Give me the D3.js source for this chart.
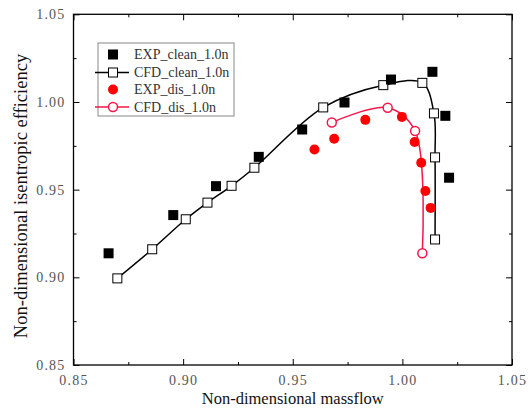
<!DOCTYPE html>
<html>
<head>
<meta charset="utf-8">
<script src="https://cdn.jsdelivr.net/npm/d3@7"></script>
<style>
  body { margin: 0; background: #fff; }
  svg text { font-family: "Liberation Serif", "DejaVu Serif", serif; }
</style>
</head>
<body>
<div id="chart"></div>
<script>
// data
var expCleanX = [0.866, 0.8955, 0.915, 0.9345, 0.9543, 0.9736, 0.9948, 1.0137, 1.0196, 1.0213];
var expCleanY = [0.9137, 0.9355, 0.952, 0.9687, 0.9843, 0.9997, 1.0128, 1.0172, 0.9921, 0.9568];

var cfdCleanX = [0.870, 0.8859, 0.9012, 0.9111, 0.9221, 0.9325, 0.9639, 0.9913, 1.0091, 1.0144, 1.0149, 1.0149];
var cfdCleanY = [0.8994, 0.916, 0.9331, 0.9426, 0.9522, 0.9625, 0.9969, 1.0096, 1.0109, 0.9935, 0.9684, 0.9216];

var expDisX = [0.9599, 0.9689, 0.9831, 0.9998, 1.0056, 1.0086, 1.0105, 1.0129];
var expDisY = [0.9729, 0.979, 0.9898, 0.9915, 0.9772, 0.9653, 0.9492, 0.9396];

var cfdDisX = [0.9678, 0.9933, 1.0058, 1.0091];
var cfdDisY = [0.9883, 0.9967, 0.9834, 0.9137];

var xTicks = [0.85, 0.90, 0.95, 1.00, 1.05];
var yTicks = [0.85, 0.90, 0.95, 1.00, 1.05];
var minorTicks = [0.875, 0.925, 0.975, 1.025];

var legendNames = ["EXP_clean_1.0n", "CFD_clean_1.0n", "EXP_dis_1.0n", "CFD_dis_1.0n"];

var width = 532, height = 416;
var pLeft = 73.5, pRight = 512, pTop = 14.3, pBottom = 365;

var svg = d3.select('#chart').append('svg').attr('width', width).attr('height', height);

var x = d3.scaleLinear().domain([0.85, 1.05]).range([pLeft, pRight]);
var y = d3.scaleLinear().domain([0.85, 1.05]).range([pBottom, pTop]);

function zip(xs, ys) { return xs.map(function(v, i) { return [v, ys[i]]; }); }

// axes, ticks pointing inward
function styleAxis(g) {
  g.select('.domain').remove();
  g.selectAll('.tick line').attr('stroke', '#000').attr('stroke-width', 1);
  g.selectAll('.tick text').attr('fill', '#555').attr('font-size', 14).attr('letter-spacing', 1.2);
}

svg.append('g').attr('transform', 'translate(0,' + pBottom + ')')
  .call(d3.axisBottom(x).tickValues(xTicks).tickSize(-6).tickPadding(10).tickFormat(d3.format('.2f')))
  .call(styleAxis);
svg.append('g').attr('transform', 'translate(0,' + pBottom + ')')
  .call(d3.axisBottom(x).tickValues(minorTicks).tickSize(-3).tickFormat(''))
  .call(styleAxis);
svg.append('g').attr('transform', 'translate(0,' + pTop + ')')
  .call(d3.axisTop(x).tickValues(xTicks).tickSize(-6).tickFormat(''))
  .call(styleAxis);
svg.append('g').attr('transform', 'translate(0,' + pTop + ')')
  .call(d3.axisTop(x).tickValues(minorTicks).tickSize(-3).tickFormat(''))
  .call(styleAxis);

svg.append('g').attr('transform', 'translate(' + pLeft + ',0)')
  .call(d3.axisLeft(y).tickValues(yTicks).tickSize(-6).tickPadding(8).tickFormat(d3.format('.2f')))
  .call(styleAxis);
svg.append('g').attr('transform', 'translate(' + pLeft + ',0)')
  .call(d3.axisLeft(y).tickValues(minorTicks).tickSize(-3).tickFormat(''))
  .call(styleAxis);
svg.append('g').attr('transform', 'translate(' + pRight + ',0)')
  .call(d3.axisRight(y).tickValues(yTicks).tickSize(-6).tickFormat(''))
  .call(styleAxis);
svg.append('g').attr('transform', 'translate(' + pRight + ',0)')
  .call(d3.axisRight(y).tickValues(minorTicks).tickSize(-3).tickFormat(''))
  .call(styleAxis);

svg.append('rect')
  .attr('x', pLeft).attr('y', pTop)
  .attr('width', pRight - pLeft).attr('height', pBottom - pTop)
  .attr('fill', 'none').attr('stroke', '#000').attr('stroke-width', 1.3);

// axis titles
svg.append('text')
  .attr('x', (pLeft + pRight) / 2).attr('y', 404)
  .attr('text-anchor', 'middle').attr('font-size', 16.5).attr('fill', '#111')
  .text('Non-dimensional massflow');
svg.append('text')
  .attr('transform', 'translate(27,196) rotate(-90)')
  .attr('text-anchor', 'middle').attr('font-size', 18.5).attr('fill', '#111')
  .text('Non-dimensional isentropic efficiency');

// lines
var line = d3.line().x(d => x(d[0])).y(d => y(d[1])).curve(d3.curveCatmullRom.alpha(0.5));

var blackCol = '#000', redCol = '#ff0000', pinkCol = '#f5164a';

svg.append('path').datum(zip(cfdCleanX, cfdCleanY))
  .attr('d', line).attr('fill', 'none').attr('stroke', blackCol).attr('stroke-width', 1.5);
svg.append('path').datum(zip(cfdDisX, cfdDisY))
  .attr('d', line).attr('fill', 'none').attr('stroke', pinkCol).attr('stroke-width', 1.5);

// markers
svg.append('g').selectAll('circle')
  .data(zip(expDisX, expDisY)).join('circle')
  .attr('cx', d => x(d[0])).attr('cy', d => y(d[1])).attr('r', 5)
  .attr('fill', redCol);

svg.append('g').selectAll('rect')
  .data(zip(cfdCleanX, cfdCleanY)).join('rect')
  .attr('x', d => x(d[0]) - 4.5).attr('y', d => y(d[1]) - 4.5)
  .attr('width', 9).attr('height', 9)
  .attr('fill', '#fff').attr('stroke', blackCol).attr('stroke-width', 1);

svg.append('g').selectAll('circle')
  .data(zip(cfdDisX, cfdDisY)).join('circle')
  .attr('cx', d => x(d[0])).attr('cy', d => y(d[1])).attr('r', 4.5)
  .attr('fill', '#fff').attr('stroke', pinkCol).attr('stroke-width', 1.5);

svg.append('g').selectAll('rect')
  .data(zip(expCleanX, expCleanY)).join('rect')
  .attr('x', d => x(d[0]) - 5).attr('y', d => y(d[1]) - 5)
  .attr('width', 10).attr('height', 10)
  .attr('fill', blackCol);

// legend
var lg = svg.append('g');
lg.append('rect').attr('x', 98).attr('y', 43).attr('width', 136).attr('height', 73)
  .attr('fill', '#fff').attr('stroke', '#888').attr('stroke-width', 1);

var rowsY = [54.5, 72.5, 89.5, 107];
var mx = 113;

lg.append('rect').attr('x', mx - 5).attr('y', rowsY[0] - 5).attr('width', 10).attr('height', 10).attr('fill', blackCol);

lg.append('line').attr('x1', 95).attr('x2', 129).attr('y1', rowsY[1]).attr('y2', rowsY[1])
  .attr('stroke', blackCol).attr('stroke-width', 1.5);
lg.append('rect').attr('x', mx - 4.5).attr('y', rowsY[1] - 4.5).attr('width', 9).attr('height', 9)
  .attr('fill', '#fff').attr('stroke', blackCol);

lg.append('circle').attr('cx', mx).attr('cy', rowsY[2]).attr('r', 5).attr('fill', redCol);

lg.append('line').attr('x1', 95).attr('x2', 129).attr('y1', rowsY[3]).attr('y2', rowsY[3])
  .attr('stroke', pinkCol).attr('stroke-width', 1.5);
lg.append('circle').attr('cx', mx).attr('cy', rowsY[3]).attr('r', 4.5)
  .attr('fill', '#fff').attr('stroke', pinkCol).attr('stroke-width', 1.5);

lg.selectAll('text.lbl')
  .data(legendNames).join('text')
  .attr('class', 'lbl')
  .attr('x', 134).attr('y', (d, i) => rowsY[i])
  .attr('dy', '0.35em').attr('font-size', 14).attr('fill', '#333')
  .text(d => d);
</script>
</body>
</html>
